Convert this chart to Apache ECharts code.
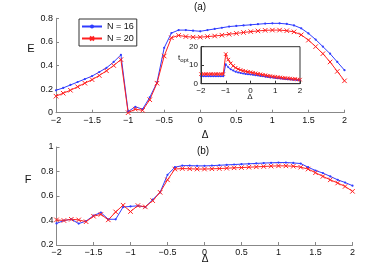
<!DOCTYPE html>
<html><head><meta charset="utf-8">
<script src="https://cdn.jsdelivr.net/npm/echarts@6/dist/echarts.min.js"></script>
<style>html,body{margin:0;padding:0;background:#fff}#c{width:382px;height:273px}</style>
</head><body><div id="c"></div>
<script>
var delta = [-2,-1.9,-1.8,-1.7,-1.6,-1.5,-1.4,-1.3,-1.2,-1.1,-1,-0.9,-0.8,-0.7,-0.6,-0.5,-0.4,-0.3,-0.2,-0.1,0,0.1,0.2,0.3,0.4,0.5,0.6,0.7,0.8,0.9,1,1.1,1.2,1.3,1.4,1.5,1.6,1.7,1.8,1.9,2];
var E16 = [0.19,0.21,0.235,0.26,0.285,0.31,0.345,0.38,0.43,0.49,0.01,0.05,0.03,0.13,0.255,0.55,0.675,0.70,0.70,0.695,0.69,0.70,0.71,0.72,0.73,0.735,0.74,0.745,0.75,0.755,0.757,0.757,0.752,0.74,0.715,0.672,0.62,0.56,0.50,0.43,0.36];
var E20 = [0.14,0.165,0.19,0.22,0.25,0.28,0.315,0.355,0.40,0.45,0.0,0.03,0.02,0.11,0.25,0.48,0.635,0.655,0.645,0.64,0.64,0.645,0.65,0.657,0.665,0.672,0.68,0.687,0.693,0.698,0.70,0.70,0.695,0.685,0.66,0.615,0.56,0.50,0.43,0.35,0.27];
var T16 = [4,4,4,4,4,4,4,4,4,4,10.5,8.9,7.8,7.1,6.5,6.1,5.8,5.5,5.3,5.1,5.0,4.8,4.6,4.4,4.2,4.0,3.8,3.6,3.4,3.3,3.1,3.0,2.8,2.7,2.5,2.4,2.3,2.2,2.1,2.0,1.9];
var T20 = [5.2,5.2,5.2,5.2,5.2,5.2,5.2,5.2,5.2,5.2,16,13,11,9.6,8.6,7.9,7.4,7.0,6.7,6.4,6.2,5.9,5.6,5.3,5.1,4.8,4.6,4.3,4.1,3.9,3.7,3.5,3.4,3.2,3.0,2.9,2.8,2.6,2.5,2.3,2.2];
var F16 = [0.376,0.40,0.41,0.375,0.395,0.44,0.465,0.41,0.41,0.51,0.515,0.52,0.51,0.57,0.63,0.773,0.835,0.848,0.848,0.846,0.846,0.848,0.851,0.854,0.857,0.86,0.863,0.866,0.869,0.871,0.873,0.873,0.87,0.865,0.835,0.808,0.787,0.76,0.732,0.71,0.684];
var F20 = [0.405,0.40,0.41,0.405,0.39,0.435,0.45,0.405,0.47,0.525,0.473,0.522,0.511,0.562,0.63,0.732,0.82,0.824,0.822,0.82,0.82,0.822,0.824,0.827,0.83,0.832,0.835,0.838,0.841,0.844,0.846,0.846,0.843,0.835,0.82,0.79,0.76,0.732,0.706,0.678,0.638];
var seriesNames = ['N = 16','N = 20'];

function pairs(ys){ return delta.map(function(x,i){ return [x, ys[i]]; }); }
var BLUE = '#2f3cff', RED = '#ff2020';
var XSYM = 'path://M0,0L10,10M10,0L0,10';
var font = 'Liberation Sans, Arial, sans-serif';
function fmt(v){ return String(v).replace('-', '\u2212'); }
function ax(gi, min, max, iv, fs, full){
  var c = full ? '#333' : '#888';
  return {type:'value', gridIndex:gi, min:min, max:max, interval:iv,
    axisLine:{show:true, onZero:false, lineStyle:{color:c, width:1}},
    axisTick:{show:true, inside:true, length:3, lineStyle:{color:c}},
    axisLabel:{color:'#111', fontSize:fs, fontFamily:font, margin:3, formatter:fmt},
    splitLine:{show:false}, z: full ? 12 : 2};
}
function ser(name, xi, yi, ys, color, sym, ss, z){
  return {name:name, type:'line', xAxisIndex:xi, yAxisIndex:yi, data:pairs(ys),
    symbol:sym, symbolSize:ss, showSymbol:true, animation:false, z:z||2,
    lineStyle:{color:color, width:1}, itemStyle:{color:color, borderColor:color, borderWidth: sym===XSYM?1:0}};
}
var chart = echarts.init(document.getElementById('c'), null, {renderer:'canvas'});
chart.setOption({
  backgroundColor:'#fff',
  animation:false,
  grid:[
    {left:56, top:18.3, width:288.5, height:94.4},
    {left:56.5, top:147, width:296, height:98},
    {left:201, top:46.7, width:99, height:37, show:true, backgroundColor:'#fff', borderColor:'#333', borderWidth:1, z:5}
  ],
  xAxis:[ ax(0,-2,2,0.5,9), ax(1,-2,2,0.5,9), ax(2,-2,2,1,8,true) ],
  yAxis:[ ax(0,0,0.8,0.2,9), ax(1,0.2,1,0.2,9), ax(2,0,20,10,8,true) ],
  legend:{left:79, top:19, orient:'vertical', data:seriesNames, itemWidth:20, itemHeight:5, itemGap:3,
    padding:[3,3,3,2], borderColor:'#333', borderWidth:1, backgroundColor:'#fff',
    textStyle:{fontSize:9, fontFamily:font, color:'#111'}},
  series:[
    ser(seriesNames[0],0,0,E16,BLUE,'circle',2.2),
    ser(seriesNames[1],0,0,E20,RED,XSYM,4.5),
    ser(seriesNames[0],1,1,F16,BLUE,'circle',2.2),
    ser(seriesNames[1],1,1,F20,RED,XSYM,4.5),
    ser(seriesNames[0],2,2,T16,BLUE,'circle',2,10),
    ser(seriesNames[1],2,2,T20,RED,XSYM,3.5,10)
  ],
  graphic:[
    {type:'text', x:31, y:49, style:{text:'E', fontSize:11, fontFamily:font, fill:'#111', align:'center', verticalAlign:'middle'}},
    {type:'text', x:28, y:180, style:{text:'F', fontSize:11, fontFamily:font, fill:'#111', align:'center', verticalAlign:'middle'}},
    {type:'text', x:205, y:135.5, style:{text:'\u0394', fontSize:10, fontFamily:font, fill:'#111', align:'center', verticalAlign:'middle'}},
    {type:'text', x:205, y:259, style:{text:'\u0394', fontSize:10, fontFamily:font, fill:'#111', align:'center', verticalAlign:'middle'}},
    {type:'text', x:200, y:7, style:{text:'(a)', fontSize:10, fontFamily:font, fill:'#111', align:'center', verticalAlign:'middle'}},
    {type:'text', x:203, y:151, style:{text:'(b)', fontSize:10, fontFamily:font, fill:'#111', align:'center', verticalAlign:'middle'}},
    {type:'text', x:250, y:97, z:20, style:{text:'\u0394', fontSize:8, fontFamily:font, fill:'#111', align:'center', verticalAlign:'middle'}},
    {type:'text', x:178, y:58, z:20, style:{text:'{t|t}{s|opt}', fontFamily:font, fill:'#111', align:'left', verticalAlign:'middle',
      rich:{t:{fontSize:8, fontFamily:font, fill:'#111'}, s:{fontSize:6, fontFamily:font, fill:'#111', padding:[5,0,0,0]}}}}
  ]
});
</script></body></html>
